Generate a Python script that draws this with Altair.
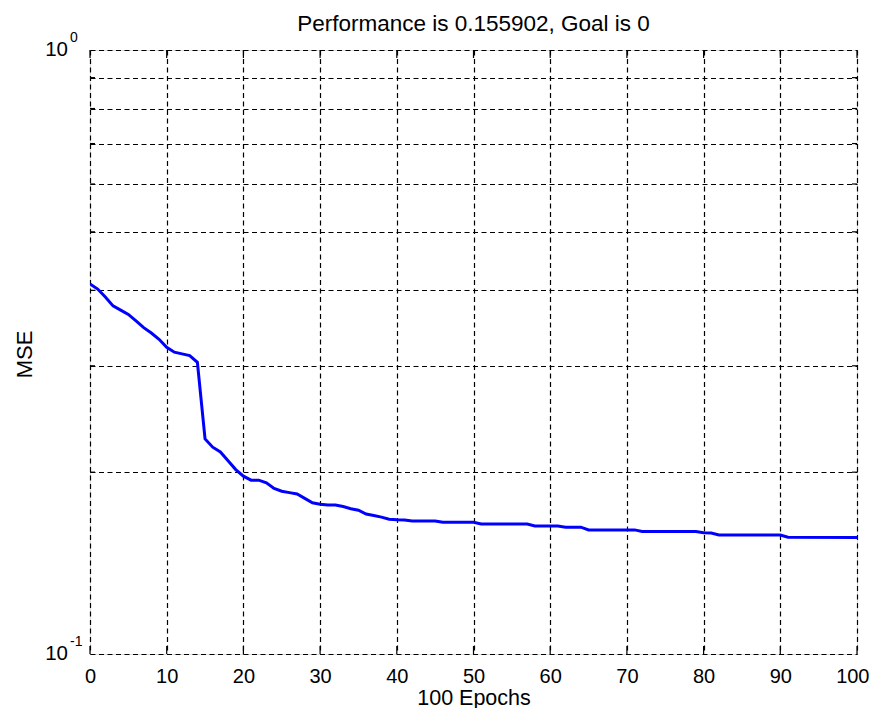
import altair as alt
import pandas as pd

# ---- data ----
epochs = [0, 1, 2, 3, 4, 5, 6, 7, 8, 9, 10, 11, 12, 13, 14, 15, 16, 17, 18, 19,
          20, 21, 22, 23, 24, 25, 26, 27, 28, 29, 30, 31, 32, 33, 34, 35, 36, 37,
          38, 39, 40, 41, 42, 45, 46, 50, 51, 57, 58, 61, 62, 64, 65, 71, 72, 79,
          80, 81, 82, 90, 91, 100]
mse = [0.410, 0.402, 0.390, 0.377, 0.371, 0.365, 0.356, 0.347, 0.340, 0.332,
       0.322, 0.316, 0.314, 0.312, 0.304, 0.227, 0.220, 0.216, 0.209, 0.202,
       0.197, 0.194, 0.194, 0.192, 0.188, 0.186, 0.185, 0.184, 0.181, 0.178,
       0.177, 0.1765, 0.1765, 0.1755, 0.174, 0.173, 0.1705, 0.1695, 0.1685, 0.1672,
       0.1668, 0.1667, 0.1660, 0.1660, 0.1652, 0.1652, 0.1641, 0.1641, 0.1629, 0.1629,
       0.1622, 0.1622, 0.1605, 0.1605, 0.1595, 0.1595, 0.1588, 0.1586, 0.1574, 0.1574,
       0.1561, 0.1559]

x_ticks = [0, 10, 20, 30, 40, 50, 60, 70, 80, 90, 100]
y_grid = [0.1, 0.2, 0.3, 0.4, 0.5, 0.6, 0.7, 0.8, 0.9, 1.0]
y_minor = [0.2, 0.3, 0.4, 0.5, 0.6, 0.7, 0.8, 0.9]
y_label_vals = [1.0, 0.1]
y_label_base = ["10", "10"]
y_label_exp = ["0", "-1"]

title_text = "Performance is 0.155902, Goal is 0"
x_title = "100 Epochs"
y_title = "MSE"

# ---- styling ----
W, H = 767, 604
FONT = "Liberation Sans"
DASH = [5, 3.5]

df = pd.DataFrame({"epoch": epochs, "mse": mse})
df_xt = pd.DataFrame({"v": x_ticks})
df_ym = pd.DataFrame({"v": y_minor})
df_lab = pd.DataFrame({"v": y_label_vals, "base": y_label_base, "exp": y_label_exp})

xscale = alt.Scale(domain=[0, 100], nice=False, zero=False)
yscale = alt.Scale(type="log", domain=[0.1, 1], nice=False)

x_axis = alt.Axis(values=x_ticks, grid=True, gridDash=DASH, gridColor="black",
                  gridOpacity=1, gridWidth=1.2, ticks=False, domain=False,
                  labelFontSize=20, labelFont=FONT, labelColor="black",
                  labelPadding=12, labelFlush=False,
                  labelAlign=alt.condition("datum.value == 100",
                                           alt.value("right"), alt.value("center")),
                  labelOffset=alt.condition("datum.value == 100",
                                            alt.value(12), alt.value(0)),
                  title=x_title, titleFont=FONT, titleFontSize=21.5,
                  titleFontWeight="normal", titleColor="black",
                  titleBaseline="alphabetic", titleY=50)
y_axis = alt.Axis(values=y_grid, grid=True, gridDash=DASH, gridColor="black",
                  gridOpacity=1, gridWidth=1.2, ticks=False, domain=False,
                  labels=False,
                  title=y_title, titleFont=FONT, titleFontSize=22,
                  titleFontWeight="normal", titleColor="black",
                  titleAngle=270, titleBaseline="alphabetic",
                  titleX=-58.6, titleY=304)

line = alt.Chart(df).mark_line(color="#0000FF", strokeWidth=3, clip=True).encode(
    x=alt.X("epoch:Q", scale=xscale, axis=x_axis),
    y=alt.Y("mse:Q", scale=yscale, axis=y_axis),
)

tick_top = alt.Chart(df_xt).mark_rule(color="black", strokeWidth=1.2).encode(
    x=alt.X("v:Q", scale=xscale), y=alt.value(0), y2=alt.value(8))
tick_bot = alt.Chart(df_xt).mark_rule(color="black", strokeWidth=1.2).encode(
    x=alt.X("v:Q", scale=xscale), y=alt.value(H), y2=alt.value(H - 8))
tick_left = alt.Chart(df_ym).mark_rule(color="black", strokeWidth=1.2).encode(
    y=alt.Y("v:Q", scale=yscale), x=alt.value(0), x2=alt.value(5))
tick_right = alt.Chart(df_ym).mark_rule(color="black", strokeWidth=1.2).encode(
    y=alt.Y("v:Q", scale=yscale), x=alt.value(W), x2=alt.value(W - 5))

lab_base = alt.Chart(df_lab).mark_text(
    align="right", baseline="middle", font=FONT, fontSize=20.5, color="black"
).encode(y=alt.Y("v:Q", scale=yscale), x=alt.value(-22), text="base:N")
lab_exp = alt.Chart(df_lab).mark_text(
    align="left", baseline="alphabetic", font=FONT, fontSize=14, color="black", dy=-8
).encode(y=alt.Y("v:Q", scale=yscale), x=alt.value(-20), text="exp:N")

chart = alt.layer(
    line, tick_top, tick_bot, tick_left, tick_right, lab_base, lab_exp
).properties(
    width=W, height=H,
    title=alt.TitleParams(text=title_text, font=FONT, fontSize=22.5,
                          fontWeight="normal", color="black", anchor="middle",
                          frame="group", baseline="alphabetic", offset=-22.5),
    autosize=alt.AutoSizeParams(type="none"),
    padding={"left": 82, "top": 42, "right": 13, "bottom": 54},
).configure_view(
    stroke="black", strokeWidth=1.5
).configure(background="white")

chart.save("out.html", embed_options={"renderer": "svg", "actions": False})
